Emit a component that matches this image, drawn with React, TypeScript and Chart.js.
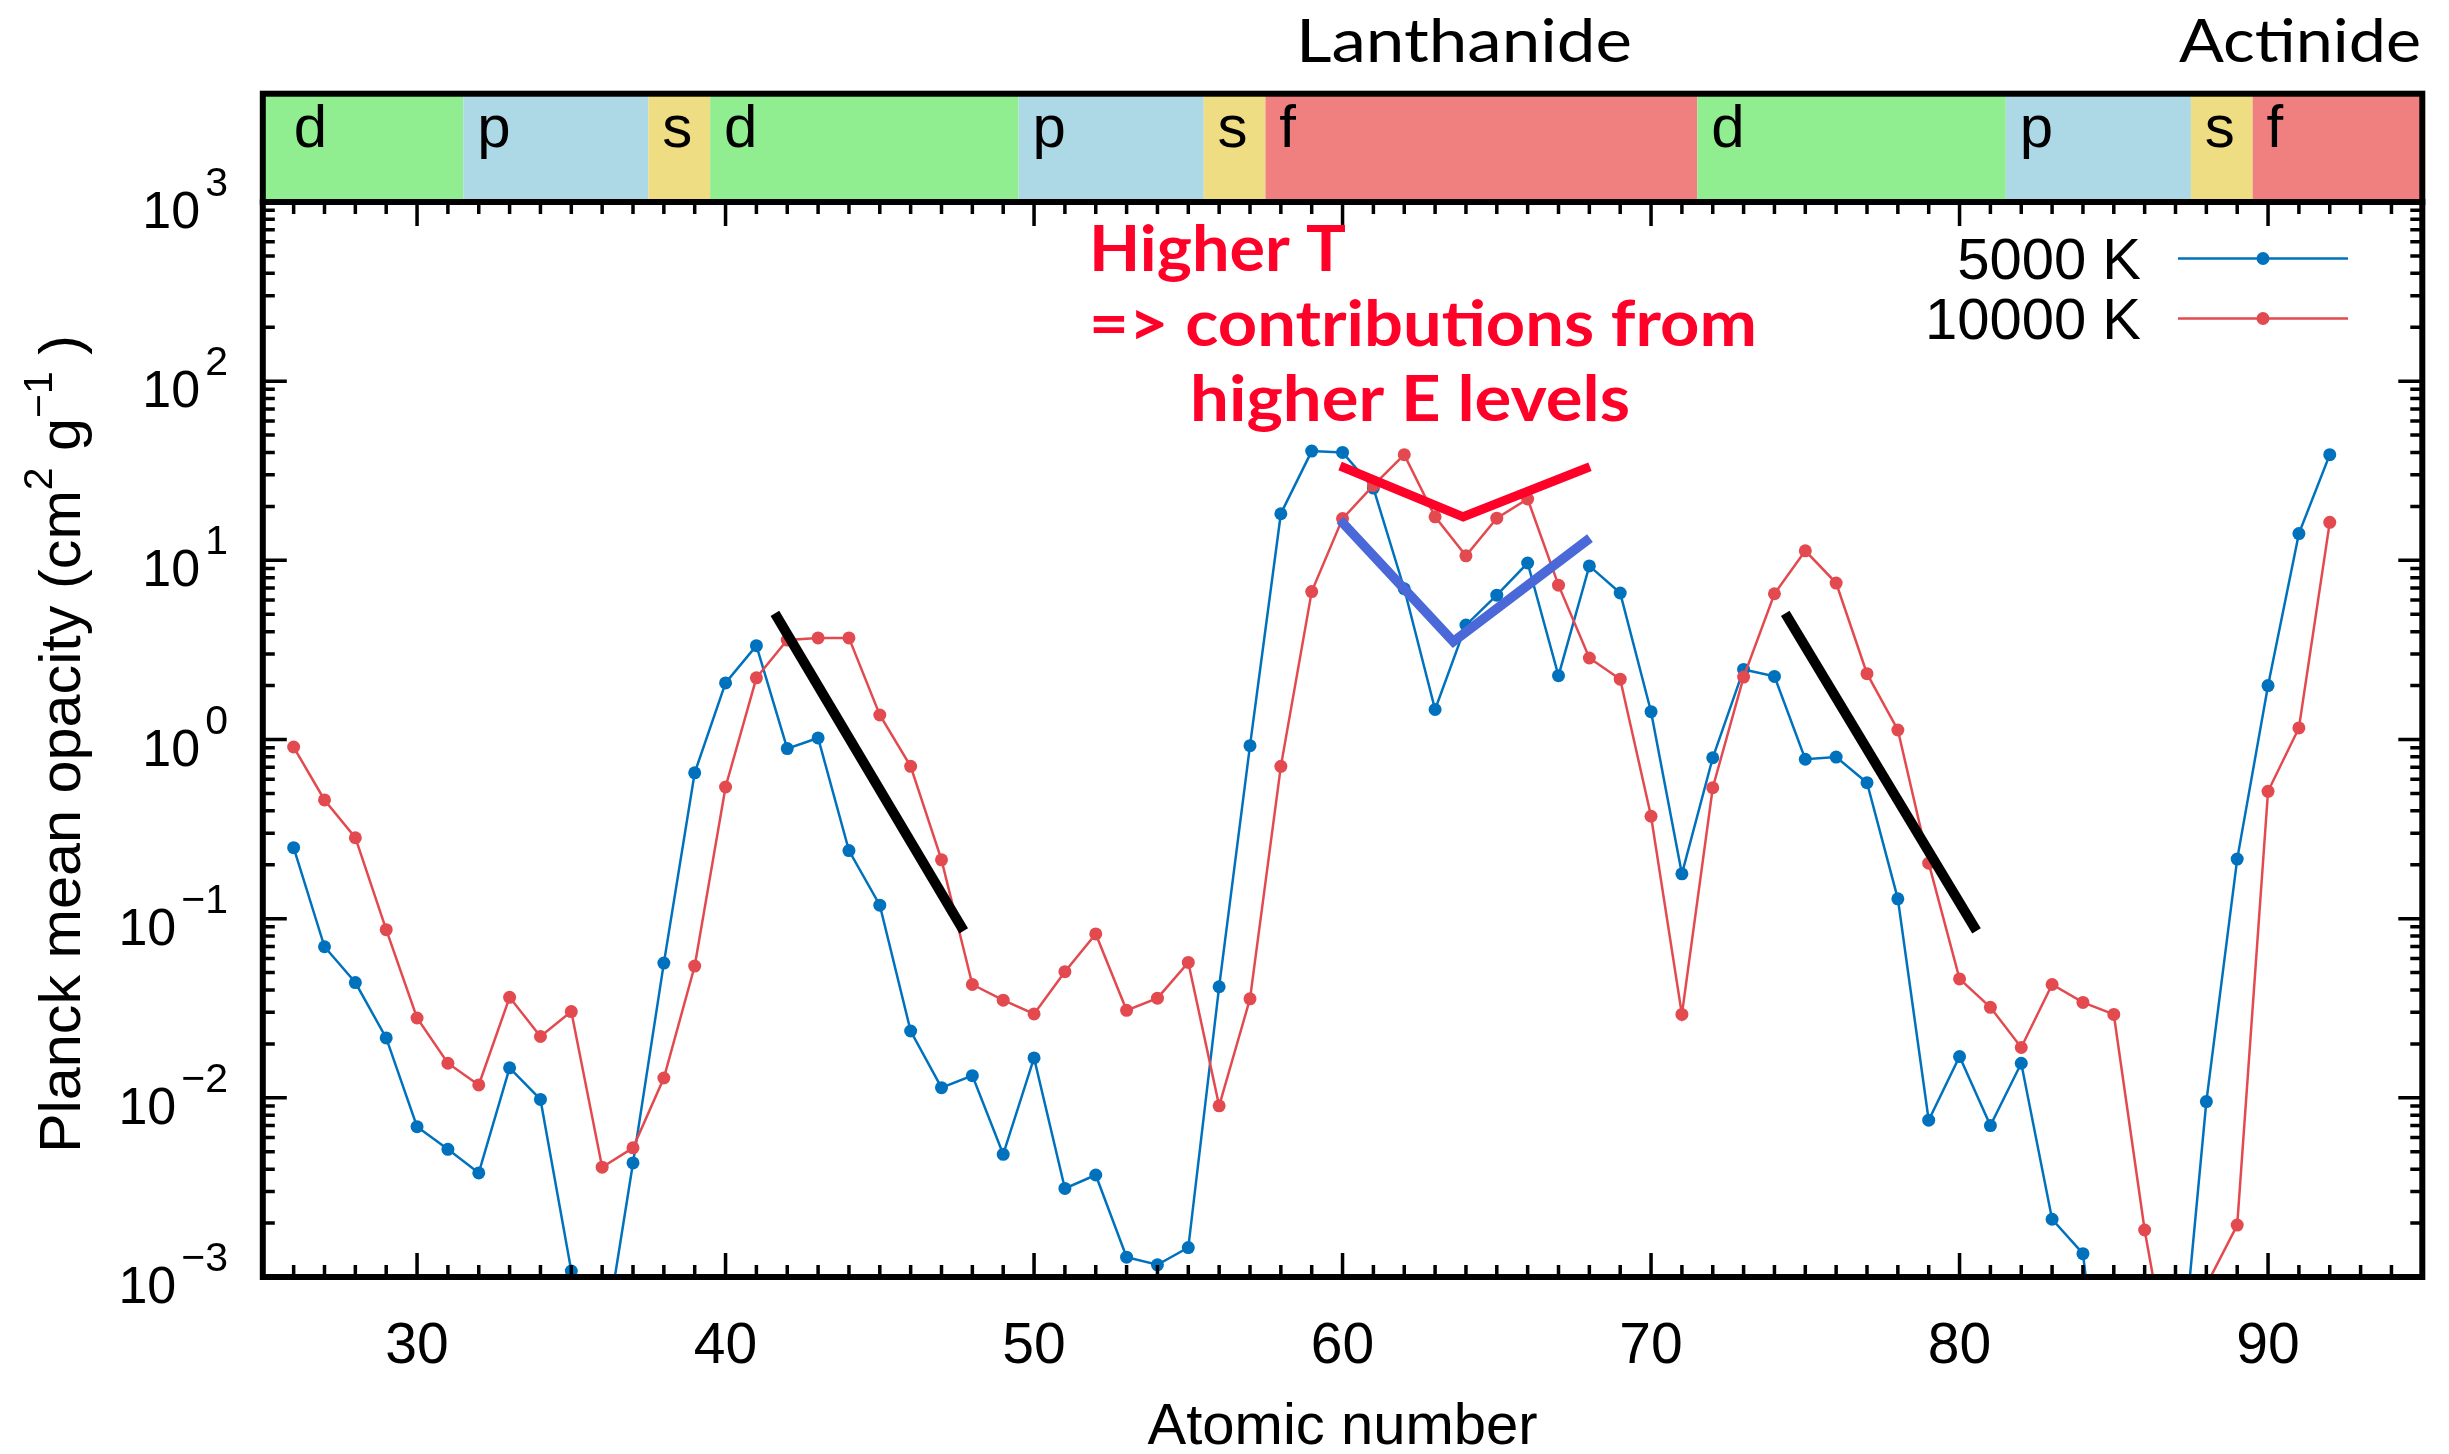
import React, { useEffect, useRef } from 'react';
import { Chart, registerables } from 'chart.js';

Chart.register(...registerables);

// ---------------- data ----------------
const atomicNumbers = [
  26, 27, 28, 29, 30, 31, 32, 33, 34, 35, 36, 37, 38, 39, 40, 41, 42, 43, 44, 45,
  46, 47, 48, 49, 50, 51, 52, 53, 54, 55, 56, 57, 58, 59, 60, 61, 62, 63, 64, 65,
  66, 67, 68, 69, 70, 71, 72, 73, 74, 75, 76, 77, 78, 79, 80, 81, 82, 83, 84, 85,
  86, 87, 88, 89, 90, 91, 92,
];

const opacity5000K = [
  0.249, 0.0697, 0.044, 0.0216, 0.0069, 0.00516, 0.00381, 0.0147, 0.0098, 0.00108,
  0.00036, 0.00433, 0.0565, 0.652, 2.07, 3.34, 0.89, 1.02, 0.24, 0.119,
  0.0236, 0.0114, 0.0133, 0.00484, 0.0167, 0.00312, 0.00371, 0.00129, 0.00117, 0.00146,
  0.0417, 0.924, 18.2, 40.7, 40.0, 25.3, 6.94, 1.47, 4.35, 6.39,
  9.66, 2.27, 9.31, 6.57, 1.43, 0.178, 0.791, 2.46, 2.25, 0.776,
  0.798, 0.574, 0.129, 0.0075, 0.017, 0.007, 0.0156, 0.0021, 0.00135, 0.00005,
  0.00003, 0.00014, 0.00953, 0.215, 2.0, 14.1, 38.9,
];

const opacity10000K = [
  0.908, 0.46, 0.283, 0.0868, 0.0279, 0.0156, 0.0118, 0.0364, 0.022, 0.0303,
  0.0041, 0.00526, 0.0129, 0.0544, 0.543, 2.21, 3.59, 3.69, 3.69, 1.37,
  0.708, 0.213, 0.0429, 0.0351, 0.0294, 0.0506, 0.0822, 0.0308, 0.036, 0.057,
  0.00902, 0.0357, 0.708, 6.69, 17.1, 26.2, 38.9, 17.5, 10.6, 17.2,
  22.0, 7.27, 2.85, 2.17, 0.373, 0.0292, 0.538, 2.23, 6.51, 11.3,
  7.47, 2.33, 1.13, 0.204, 0.0461, 0.032, 0.0191, 0.0429, 0.0341, 0.0292,
  0.00183, 0.0002, 0.0009, 0.00195, 0.514, 1.16, 16.3,
];

const seriesLabels = ['5000 K', '10000 K'];

const xTickValues = [30, 40, 50, 60, 70, 80, 90];
const yTickExponents = [-3, -2, -1, 0, 1, 2, 3];

// electron shell bands (atomic number ranges)
const shellStarts = [25, 31.5, 37.5, 39.5, 49.5, 55.5, 57.5, 71.5, 81.5, 87.5, 89.5];
const shellEnds = [31.5, 37.5, 39.5, 49.5, 55.5, 57.5, 71.5, 81.5, 87.5, 89.5, 95];
const shellLabels = ['d', 'p', 's', 'd', 'p', 's', 'f', 'd', 'p', 's', 'f'];

// annotation guide lines
const slopeLine1X = [41.6, 47.72];
const slopeLine1Y = [5.06, 0.0855];
const slopeLine2X = [74.35, 80.55];
const slopeLine2Y = [5.06, 0.0855];
const hotVX = [59.92, 63.91, 68.02];
const hotVY = [33.6, 17.5, 33.3];
const coolVX = [59.92, 63.59, 68.02];
const coolVY = [16.8, 3.52, 13.3];

const annotationLines = ['Higher T', '=> contributions from', 'higher E levels'];
const seriesNames = ['Lanthanide', 'Actinide'];

// ---------------- style ----------------
const W = 2449;
const H = 1454;
const PLOT_RIGHT = 2422.3;
const PLOT_LEFT = 262.8;
const PLOT_TOP = 202;
const PLOT_BOTTOM = 1277;

const BLUE = '#0072BD';
const RED = '#E34A4F';
const ANNOT_RED = '#FF0029';
const ANNOT_BLUE = '#4A68D8';
const SHELL_COLORS: Record<string, string> = {
  d: '#90EE90',
  p: '#ADD8E6',
  s: '#EEDD82',
  f: '#F08080',
};
const SANS = '"Liberation Sans", Arial, Helvetica, sans-serif';
const HUM = 'Lato, "Open Sans", "Noto Sans", sans-serif';

function fitText(ctx: CanvasRenderingContext2D, text: string, x: number, y: number, width: number, font: string, color: string) {
  ctx.save();
  ctx.font = font;
  ctx.fillStyle = color;
  ctx.textAlign = 'left';
  ctx.textBaseline = 'alphabetic';
  const m = ctx.measureText(text).width;
  ctx.translate(x, y);
  ctx.scale(width / m, 1);
  ctx.fillText(text, 0, 0);
  ctx.restore();
}

const decorPlugin = {
  id: 'decor',
  afterDraw(chart: any) {
    const ctx: CanvasRenderingContext2D = chart.ctx;
    const ca = chart.chartArea;
    const xs = chart.scales.x;
    const ys = chart.scales.y;
    ctx.save();

    // ---- shell colour bar ----
    const barTop = 93.7;
    for (let i = 0; i < shellLabels.length; i++) {
      const x0 = xs.getPixelForValue(shellStarts[i]);
      const x1 = xs.getPixelForValue(shellEnds[i]);
      ctx.fillStyle = SHELL_COLORS[shellLabels[i]];
      ctx.fillRect(x0, barTop, x1 - x0, ca.top - barTop);
    }
    ctx.fillStyle = '#000';
    ctx.font = `60px ${SANS}`;
    ctx.textAlign = 'left';
    ctx.textBaseline = 'alphabetic';
    for (let i = 0; i < shellLabels.length; i++) {
      const px = xs.getPixelForValue(Math.max(shellStarts[i], 25.55) + 0.45);
      ctx.fillText(shellLabels[i], px, 147);
    }
    ctx.strokeStyle = '#000';
    ctx.lineWidth = 6;
    ctx.strokeRect(ca.left, barTop, ca.right - ca.left, ca.top - barTop);

    // ---- frame ----
    ctx.strokeRect(ca.left, ca.top, ca.right - ca.left, ca.bottom - ca.top);

    // ---- inward ticks ----
    ctx.lineWidth = 3.5;
    ctx.beginPath();
    for (let n = Math.ceil(xs.min + 0.5); n < xs.max; n++) {
      const px = xs.getPixelForValue(n);
      const len = n % 10 === 0 ? 24 : 12;
      ctx.moveTo(px, ca.bottom);
      ctx.lineTo(px, ca.bottom - len);
      ctx.moveTo(px, ca.top);
      ctx.lineTo(px, ca.top + len);
    }
    for (let e = -3; e <= 2; e++) {
      for (let k = 1; k <= 9; k++) {
        if (e === -3 && k === 1) continue;
        const v = k * Math.pow(10, e);
        const py = ys.getPixelForValue(v);
        const len = k === 1 ? 24 : 12;
        ctx.moveTo(ca.left, py);
        ctx.lineTo(ca.left + len, py);
        ctx.moveTo(ca.right, py);
        ctx.lineTo(ca.right - len, py);
      }
    }
    ctx.stroke();

    // ---- y tick labels 10^n ----
    ctx.fillStyle = '#000';
    ctx.textBaseline = 'alphabetic';
    ctx.textAlign = 'right';
    for (const e of yTickExponents) {
      const py = ys.getPixelForValue(Math.pow(10, e));
      const expText = e < 0 ? '\u2212' + Math.abs(e) : String(e);
      ctx.font = `41px ${SANS}`;
      const ew = ctx.measureText(expText).width;
      ctx.fillText(expText, 228, py - 6);
      ctx.font = `52px ${SANS}`;
      ctx.fillText('10', 228 - ew - 5, py + 26);
    }

    // ---- y axis title ----
    const parts = [
      { t: 'Planck mean opacity (cm', sup: false },
      { t: '2', sup: true },
      { t: ' g', sup: false },
      { t: '\u22121', sup: true },
      { t: ' )', sup: false },
    ];
    const baseFont = `58px ${SANS}`;
    const supFont = `40px ${SANS}`;
    let total = 0;
    const widths: number[] = [];
    for (const p of parts) {
      ctx.font = p.sup ? supFont : baseFont;
      const w = ctx.measureText(p.t).width;
      widths.push(w);
      total += w;
    }
    ctx.save();
    ctx.translate(80, 744);
    ctx.rotate(-Math.PI / 2);
    const sx = 818 / total;
    ctx.scale(sx, 1);
    ctx.textAlign = 'left';
    let cx = -total / 2;
    parts.forEach((p, i) => {
      ctx.font = p.sup ? supFont : baseFont;
      ctx.fillText(p.t, cx, p.sup ? -28 : 0);
      cx += widths[i];
    });
    ctx.restore();

    // ---- legend ----
    const legendColors = [BLUE, RED];
    const legendY = [258.5, 318.5];
    ctx.font = `58px ${SANS}`;
    ctx.textAlign = 'right';
    for (let i = 0; i < 2; i++) {
      ctx.fillStyle = '#000';
      ctx.fillText(seriesLabels[i], 2141, legendY[i] + 20);
      ctx.strokeStyle = legendColors[i];
      ctx.lineWidth = 2.5;
      ctx.beginPath();
      ctx.moveTo(2178, legendY[i]);
      ctx.lineTo(2348, legendY[i]);
      ctx.stroke();
      ctx.fillStyle = legendColors[i];
      ctx.beginPath();
      ctx.arc(2263, legendY[i], 6.5, 0, Math.PI * 2);
      ctx.fill();
    }

    // ---- group names above the bar ----
    fitText(ctx, seriesNames[0], 1296, 62, 336, `60px ${HUM}`, '#000');
    fitText(ctx, seriesNames[1], 2179, 62, 242, `60px ${HUM}`, '#000');

    // ---- red annotation text ----
    const boldFont = `bold 64px ${HUM}`;
    fitText(ctx, annotationLines[0], 1089, 271, 257, boldFont, ANNOT_RED);
    fitText(ctx, annotationLines[1], 1089, 346, 668, boldFont, ANNOT_RED);
    fitText(ctx, annotationLines[2], 1190, 421, 440, boldFont, ANNOT_RED);

    ctx.restore();
  },
};

function pts(xs: number[], ys: number[]) {
  return xs.map((x, i) => ({ x, y: ys[i] }));
}

export default function App() {
  const ref = useRef<HTMLCanvasElement>(null);

  useEffect(() => {
    const canvas = ref.current;
    if (!canvas) return;
    const guide = (data: any[], color: string, width: number) => ({
      label: '',
      data,
      borderColor: color,
      backgroundColor: color,
      borderWidth: width,
      pointRadius: 0,
      pointHoverRadius: 0,
      clip: 0,
      order: 0,
      borderJoinStyle: 'miter',
      borderCapStyle: 'butt',
    });
    const chart = new Chart(canvas, {
      type: 'line',
      data: {
        datasets: [
          {
            label: seriesLabels[0],
            data: pts(atomicNumbers, opacity5000K),
            borderColor: BLUE,
            backgroundColor: BLUE,
            pointBackgroundColor: BLUE,
            borderWidth: 2.5,
            pointRadius: 6.5,
            pointBorderWidth: 0,
            tension: 0,
            clip: 0,
            order: 3,
          },
          {
            label: seriesLabels[1],
            data: pts(atomicNumbers, opacity10000K),
            borderColor: RED,
            backgroundColor: RED,
            pointBackgroundColor: RED,
            borderWidth: 2.5,
            pointRadius: 6.5,
            pointBorderWidth: 0,
            tension: 0,
            clip: 0,
            order: 2,
          },
          guide(pts(slopeLine1X, slopeLine1Y), '#000', 10),
          guide(pts(slopeLine2X, slopeLine2Y), '#000', 10),
          guide(pts(hotVX, hotVY), ANNOT_RED, 9),
          guide(pts(coolVX, coolVY), ANNOT_BLUE, 9.5),
        ] as any,
      },
      options: {
        responsive: false,
        animation: false,
        devicePixelRatio: 1,
        layout: {
          padding: { left: 0, right: W - PLOT_RIGHT, top: PLOT_TOP, bottom: 0 },
        },
        plugins: {
          legend: { display: false },
          tooltip: { enabled: false },
          title: { display: false },
        },
        events: [],
        scales: {
          x: {
            type: 'linear',
            min: 25,
            max: 95,
            grid: { display: false },
            border: { display: false },
            afterBuildTicks: (scale: any) => {
              scale.ticks = xTickValues.map((v) => ({ value: v }));
            },
            afterFit: (scale: any) => {
              scale.height = H - PLOT_BOTTOM;
            },
            ticks: {
              autoSkip: false,
              maxRotation: 0,
              minRotation: 0,
              padding: 28,
              color: '#000',
              font: { family: SANS, size: 57 },
              callback: (v: any) => String(v),
            },
            title: {
              display: true,
              text: 'Atomic number',
              color: '#000',
              padding: 0,
              font: { family: SANS, size: 58, lineHeight: 0.9 },
            },
          },
          y: {
            type: 'logarithmic',
            min: 0.001,
            max: 1000,
            grid: { display: false },
            border: { display: false },
            ticks: { display: false },
            afterFit: (scale: any) => {
              scale.width = PLOT_LEFT;
            },
          },
        },
      } as any,
      plugins: [decorPlugin],
    });
    return () => chart.destroy();
  }, []);

  return (
    <div style={{ position: 'absolute', left: 0, top: 0, width: W, height: H, background: '#fff' }}>
      <canvas ref={ref} width={W} height={H} style={{ display: 'block', width: W, height: H }} />
    </div>
  );
}
